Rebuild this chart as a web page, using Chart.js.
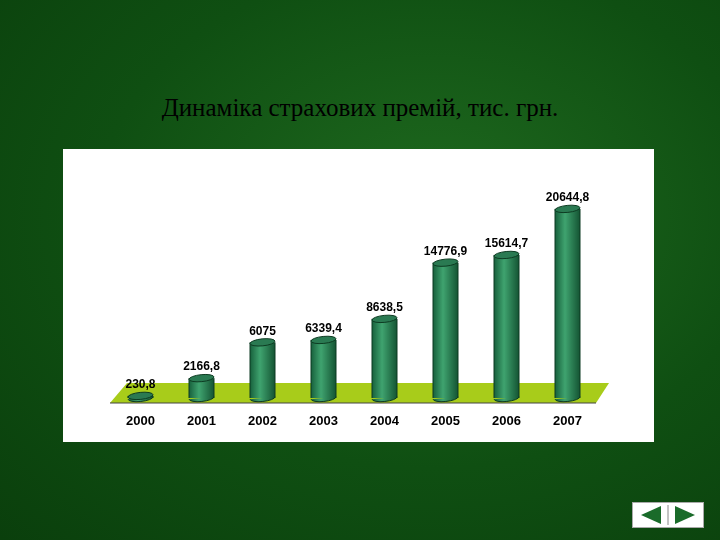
<!DOCTYPE html>
<html><head><meta charset="utf-8">
<script src="https://cdn.jsdelivr.net/npm/chart.js@4"></script>
<style>
html,body{margin:0;padding:0;width:720px;height:540px;overflow:hidden;
background:radial-gradient(ellipse at 60% 40%,#1f6a1f 0%,#0f4f12 55%,#0a3f0c 100%);font-family:"Liberation Serif",serif}
#title{position:absolute;left:0;width:720px;top:94px;text-align:center;font-size:25px;color:#000;font-family:"Liberation Serif",serif}
#panel{position:absolute;left:63px;top:149px;width:591px;height:293px;background:#fff}
#nav{position:absolute;left:632px;top:502px;width:70px;height:24px;background:#fff;border:1px solid #aaa}
</style></head><body>
<div id="title">Динаміка страхових премій, тис. грн.</div>
<div id="panel"><canvas id="c" width="591" height="293"></canvas></div>
<div id="nav"><svg width="70" height="24"><polygon points="8,12 28,3 28,21" fill="#1a6b2a"/><polygon points="62,12 42,3 42,21" fill="#1a6b2a"/><line x1="35" y1="2" x2="35" y2="22" stroke="#888"/></svg></div>
<script>
const years=["2000","2001","2002","2003","2004","2005","2006","2007"];
const premiums=[230.8,2166.8,6075,6339.4,8638.5,14776.9,15614.7,20644.8];
const valueLabels=["230,8","2166,8","6075","6339,4","8638,5","14776,9","15614,7","20644,8"];
const deco={id:'deco',
beforeDatasetsDraw(ch){const a=ch.chartArea,c=ch.ctx;c.save();
c.fillStyle='#a8cc1a';c.beginPath();
c.moveTo(a.left+17,a.bottom-15);c.lineTo(a.right+11,a.bottom-15);c.lineTo(a.right-2,a.bottom+5);c.lineTo(a.left,a.bottom+5);c.closePath();c.fill();
c.strokeStyle='#444';c.beginPath();c.moveTo(a.left,a.bottom+5);c.lineTo(a.right-2,a.bottom+5);c.stroke();c.restore();},
afterDatasetsDraw(ch){const c=ch.ctx,m=ch.getDatasetMeta(0);c.save();
m.data.forEach((b,i)=>{const w=b.width,l=b.x-w/2;
const g=c.createLinearGradient(l,0,l+w,0);g.addColorStop(0,'#17603c');g.addColorStop(0.4,'#3fa36f');g.addColorStop(1,'#145433');
c.fillStyle=g;c.fillRect(l,b.y,w,b.base-b.y);
c.beginPath();c.ellipse(b.x,b.base,w/2,3.5,-0.1,0,Math.PI);c.fill();
c.strokeStyle='#0d3b22';c.lineWidth=1;
c.beginPath();c.moveTo(l,b.y);c.lineTo(l,b.base);c.moveTo(l+w,b.y);c.lineTo(l+w,b.base);c.stroke();
c.beginPath();c.ellipse(b.x,b.base,w/2,3.5,-0.1,0,Math.PI);c.stroke();
c.fillStyle='#2a7a52';
c.beginPath();c.ellipse(b.x,b.y,w/2,3.5,-0.1,0,Math.PI*2);c.fill();c.stroke();
c.fillStyle='#000';c.font='bold 12px "Liberation Sans",Arial';c.textAlign='center';c.textBaseline='bottom';
c.fillText(valueLabels[i],b.x,b.y-5);});c.restore();}};
new Chart(document.getElementById('c'),{type:'bar',
data:{labels:years,datasets:[{data:premiums,backgroundColor:'rgba(0,0,0,0)',borderWidth:0,barThickness:25}]},
options:{responsive:false,animation:false,
layout:{padding:{left:47,right:56,top:20,bottom:0}},
plugins:{legend:{display:false},tooltip:{enabled:false}},
scales:{y:{display:false,min:0,max:25000},
x:{afterFit:s=>{s.height=44},grid:{display:false},border:{display:false},ticks:{color:'#000',font:{family:'"Liberation Sans",Arial',weight:'bold',size:13},padding:8}}}},
plugins:[deco]});
</script></body></html>
